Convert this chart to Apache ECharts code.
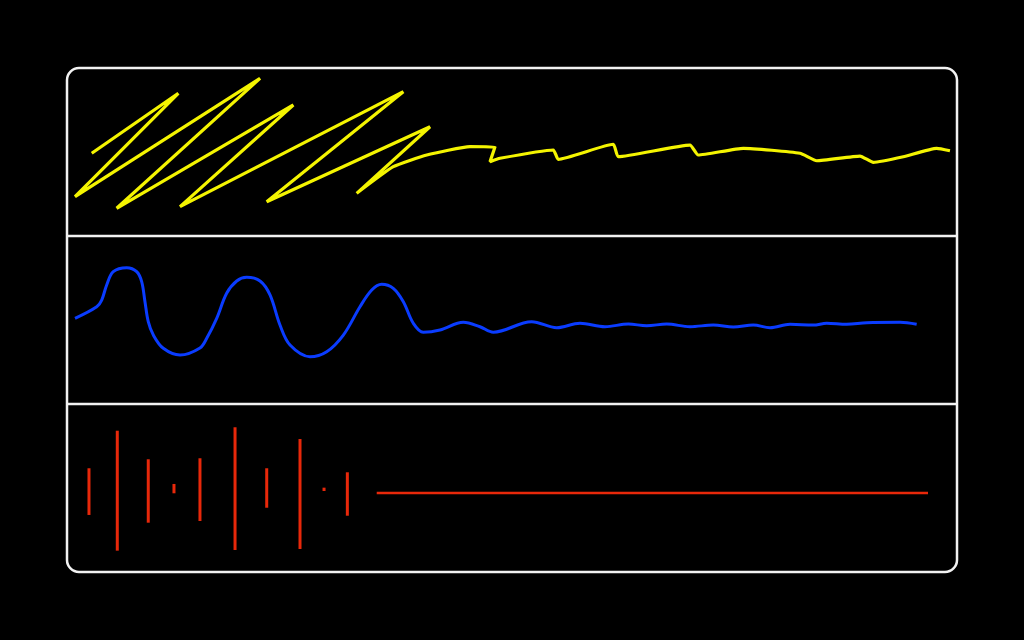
<!DOCTYPE html>
<html>
<head>
<meta charset="utf-8">
<script src="https://cdn.jsdelivr.net/npm/echarts@6/dist/echarts.min.js"></script>
<style>
html,body{margin:0;padding:0;background:#000;}
#chart{width:1024px;height:640px;}
</style>
</head>
<body>
<div id="chart"></div>
<script>
// Panel 1: yellow scribble trace [t, amplitude]
const yellowTrace = [
  [0.278,-0.015],[1.251,0.699],[0.090,-0.532],[2.169,0.877],[0.558,-0.670],
  [2.543,0.560],[1.270,-0.651],[3.779,0.718],[2.244,-0.592],[4.079,0.301],
  [3.255,-0.492],[3.666,-0.175],[4.042,-0.036],[4.528,0.063],[4.809,0.060],
  [4.753,-0.115],[4.865,-0.075],[5.464,0.024],[5.520,-0.087],[6.138,0.092],
  [6.194,-0.056],[7.000,0.083],[7.093,-0.036],[7.599,0.044],[8.236,-0.015],
  [8.424,-0.104],[8.910,-0.048],[9.060,-0.123],[9.397,-0.056],[9.772,0.044],
  [9.921,0.015]
];
// Panel 2: blue damped oscillation [t, amplitude]
const blueTrace = [
  [0.090,0.020],[0.334,0.158],[0.390,0.238],[0.446,0.417],[0.520,0.575],
  [0.671,0.623],[0.783,0.575],[0.839,0.456],[0.876,0.218],[0.913,-0.020],
  [0.970,-0.179],[1.082,-0.337],[1.270,-0.417],[1.494,-0.333],[1.570,-0.218],
  [1.682,0.020],[1.794,0.318],[1.907,0.464],[2.019,0.508],[2.169,0.464],
  [2.281,0.298],[2.393,-0.060],[2.506,-0.298],[2.730,-0.437],[2.918,-0.377],
  [3.105,-0.179],[3.292,0.158],[3.424,0.357],[3.536,0.425],[3.666,0.377],
  [3.779,0.218],[3.891,-0.039],[4.003,-0.146],[4.191,-0.119],[4.453,-0.027],
  [4.640,-0.080],[4.790,-0.146],[5.221,-0.020],[5.502,-0.092],[5.764,-0.039],
  [6.045,-0.080],[6.307,-0.048],[6.513,-0.068],[6.738,-0.048],[7.000,-0.080],
  [7.262,-0.060],[7.487,-0.083],[7.711,-0.060],[7.899,-0.092],[8.124,-0.051],
  [8.385,-0.060],[8.536,-0.039],[8.760,-0.051],[8.985,-0.032],[9.360,-0.027],
  [9.547,-0.051]
];
// Panel 3: red spikes [t, low, high]
const redSpikes = [
  [0.247,-0.321,0.235],[0.565,-0.746,0.682],[0.913,-0.413,0.342],
  [1.202,-0.063,0.048],[1.494,-0.393,0.354],[1.888,-0.738,0.723],
  [2.244,-0.235,0.235],[2.618,-0.726,0.583],[2.888,-0.036,0.004],
  [3.150,-0.330,0.187]
];
// Panel 3: red flat trace [t, amplitude]
const redFlat = [[3.480,-0.060],[5.0,-0.060],[7.0,-0.060],[9.674,-0.060]];

const chart = echarts.init(document.getElementById('chart'), null, {renderer:'canvas'});
const grids = [0,1,2].map(i => ({left:67, right:67, top:68 + i*168, height:168}));
const xAxes = [0,1,2].map(i => ({type:'value', gridIndex:i, min:0, max:10, show:false}));
const yAxes = [0,1,2].map(i => ({type:'value', gridIndex:i, min:-1, max:1, show:false}));

chart.setOption({
  backgroundColor:'#000',
  animation:false,
  grid: grids,
  xAxis: xAxes,
  yAxis: yAxes,
  graphic: [
    {type:'rect', shape:{x:67,y:68,width:890,height:504,r:12}, style:{fill:'none',stroke:'#f2f2f2',lineWidth:2.5}, z:10},
    {type:'line', shape:{x1:67,y1:236,x2:957,y2:236}, style:{stroke:'#f2f2f2',lineWidth:2.5}, z:10},
    {type:'line', shape:{x1:67,y1:404,x2:957,y2:404}, style:{stroke:'#f2f2f2',lineWidth:2.5}, z:10}
  ],
  series: [
    {type:'line', xAxisIndex:0, yAxisIndex:0, data:yellowTrace, showSymbol:false, smooth:0.15,
     lineStyle:{color:'#f4f400', width:3.2}},
    {type:'line', xAxisIndex:1, yAxisIndex:1, data:blueTrace, showSymbol:false, smooth:0.35,
     lineStyle:{color:'#0a3cff', width:3}},
    {type:'custom', xAxisIndex:2, yAxisIndex:2, data:redSpikes,
     renderItem: function(params, api){
       const a = api.coord([api.value(0), api.value(2)]);
       const b = api.coord([api.value(0), api.value(1)]);
       return {type:'line', shape:{x1:a[0],y1:a[1],x2:b[0],y2:b[1]},
               style:{stroke:'#e8280a', lineWidth:3}};
     }},
    {type:'line', xAxisIndex:2, yAxisIndex:2, data:redFlat, showSymbol:false,
     lineStyle:{color:'#e8280a', width:2.5}}
  ]
});
</script>
</body>
</html>
